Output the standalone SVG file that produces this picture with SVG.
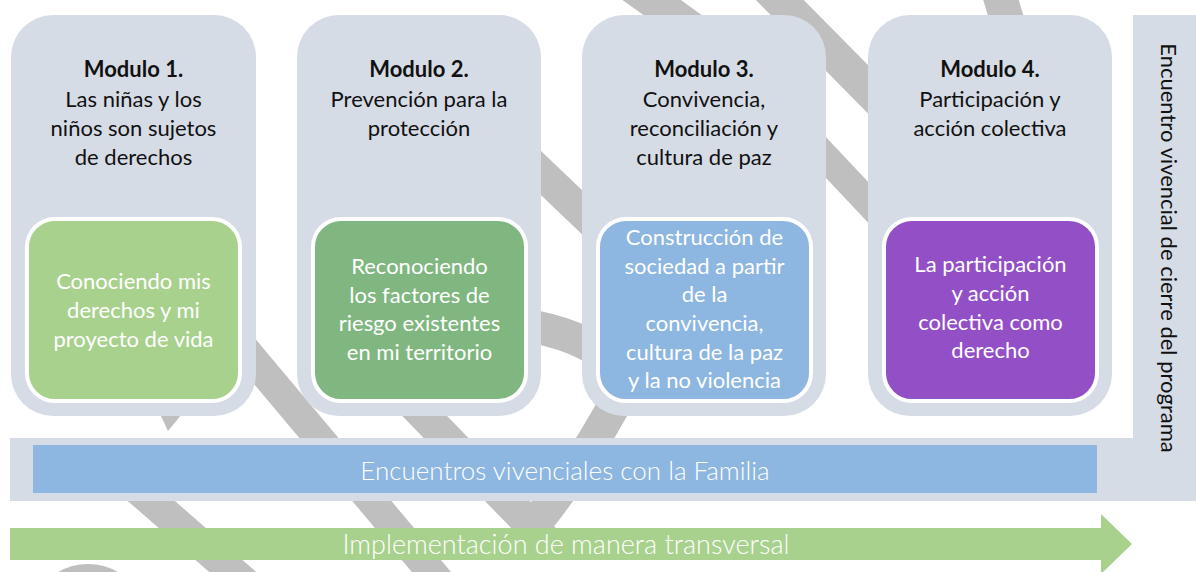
<svg xmlns="http://www.w3.org/2000/svg" width="1196" height="572" viewBox="0 0 1196 572">
<style>
.wm{fill:none;stroke:#BFBFBF;stroke-linecap:butt}
.mod{fill:#D6DCE5}
.inner{stroke:#FFFFFF;stroke-width:4}
.t{font-family:Lato,"Liberation Sans",Arial,sans-serif;font-size:22px;fill:#111111;text-anchor:middle}
.b{font-weight:bold}
.w{font-family:Lato,"Liberation Sans",Arial,sans-serif;font-size:22px;fill:#FFFFFF;text-anchor:middle}
.big{font-family:Lato,"Liberation Sans",Arial,sans-serif;font-weight:300;fill:#FFFFFF;text-anchor:middle}
</style>
<rect width="1196" height="572" fill="#FFFFFF"/>
<g id="watermark">
<line class="wm" x1="600" y1="-37" x2="720" y2="49" stroke-width="34"/>
<line class="wm" x1="760" y1="-20" x2="940" y2="162" stroke-width="34"/>
<line class="wm" x1="995" y1="-20" x2="1010" y2="30" stroke-width="34"/>
<line class="wm" x1="480" y1="115" x2="650" y2="277" stroke-width="32"/>
<line class="wm" x1="770" y1="98" x2="930" y2="268" stroke-width="28"/>
<line class="wm" x1="230" y1="332" x2="470" y2="618" stroke-width="30"/>
<line class="wm" x1="380" y1="370" x2="550" y2="545" stroke-width="32"/>
<path class="wm" d="M470 322 C560 318 640 360 620 395 S580 470 518 545" stroke-width="33"/>
<line class="wm" x1="110" y1="465" x2="250" y2="587" stroke-width="31"/>
<circle class="wm" cx="88" cy="622" r="44" stroke-width="28"/>
<polygon points="160,414 182,414 168,431" fill="#BFBFBF"/>
</g>
<g id="closing-bar">
<path d="M1133 15 H1196 V501 H10 V438 H1133 Z" fill="#D6DCE5"/>
<text class="t" transform="translate(1161,248) rotate(90)">Encuentro vivencial de cierre del programa</text>
</g>
<g id="family-bar">
<rect x="33" y="445" width="1064" height="48" fill="#8DB6E0"/>
<text class="big" x="565" y="480" font-size="26">Encuentros vivenciales con la Familia</text>
</g>
<g id="transversal-arrow">
<polygon points="10,528 1101,528 1101,514 1132,544 1101,574 1101,560 10,560" fill="#A9D18E"/>
<text class="big" x="566" y="554" font-size="27">Implementación de manera transversal</text>
</g>
<g id="modulo1">
<rect class="mod" x="11" y="15" width="245" height="401" rx="42"/>
<text class="t"><tspan class="b" x="133.5" y="77">Modulo 1.</tspan><tspan x="133.5" y="107">Las niñas y los</tspan><tspan x="133.5" y="136">niños son sujetos</tspan><tspan x="133.5" y="165">de derechos</tspan></text>
<rect class="inner" x="27" y="219" width="213" height="182" rx="28" fill="#A9D18E"/>
<text class="w"><tspan x="133.5" y="289">Conociendo mis</tspan><tspan x="133.5" y="318">derechos y mi</tspan><tspan x="133.5" y="347">proyecto de vida</tspan></text>
</g>
<g id="modulo2">
<rect class="mod" x="297" y="15" width="244" height="401" rx="42"/>
<text class="t"><tspan class="b" x="419" y="77">Modulo 2.</tspan><tspan x="419" y="107">Prevención para la</tspan><tspan x="419" y="136">protección</tspan></text>
<rect class="inner" x="313" y="219" width="213" height="182" rx="28" fill="#80B780"/>
<text class="w"><tspan x="419.5" y="274">Reconociendo</tspan><tspan x="419.5" y="302.5">los factores de</tspan><tspan x="419.5" y="331">riesgo existentes</tspan><tspan x="419.5" y="359.5">en mi territorio</tspan></text>
</g>
<g id="modulo3">
<rect class="mod" x="582" y="15" width="244" height="401" rx="42"/>
<text class="t"><tspan class="b" x="704" y="77">Modulo 3.</tspan><tspan x="704" y="107">Convivencia,</tspan><tspan x="704" y="136">reconciliación y</tspan><tspan x="704" y="165">cultura de paz</tspan></text>
<rect class="inner" x="598" y="219" width="213" height="182" rx="28" fill="#8DB6E0"/>
<text class="w"><tspan x="704.5" y="245">Construcción de</tspan><tspan x="704.5" y="274">sociedad a partir</tspan><tspan x="704.5" y="302">de la</tspan><tspan x="704.5" y="331">convivencia,</tspan><tspan x="704.5" y="360">cultura de la paz</tspan><tspan x="704.5" y="388">y la no violencia</tspan></text>
</g>
<g id="modulo4">
<rect class="mod" x="868" y="15" width="244" height="401" rx="42"/>
<text class="t"><tspan class="b" x="990" y="77">Modulo 4.</tspan><tspan x="990" y="107">Participación y</tspan><tspan x="990" y="136">acción colectiva</tspan></text>
<rect class="inner" x="884" y="219" width="213" height="182" rx="28" fill="#9350C6"/>
<text class="w"><tspan x="990.5" y="272">La participación</tspan><tspan x="990.5" y="300.5">y acción</tspan><tspan x="990.5" y="329.5">colectiva como</tspan><tspan x="990.5" y="358">derecho</tspan></text>
</g>
<g id="connectors"/>
</svg>
